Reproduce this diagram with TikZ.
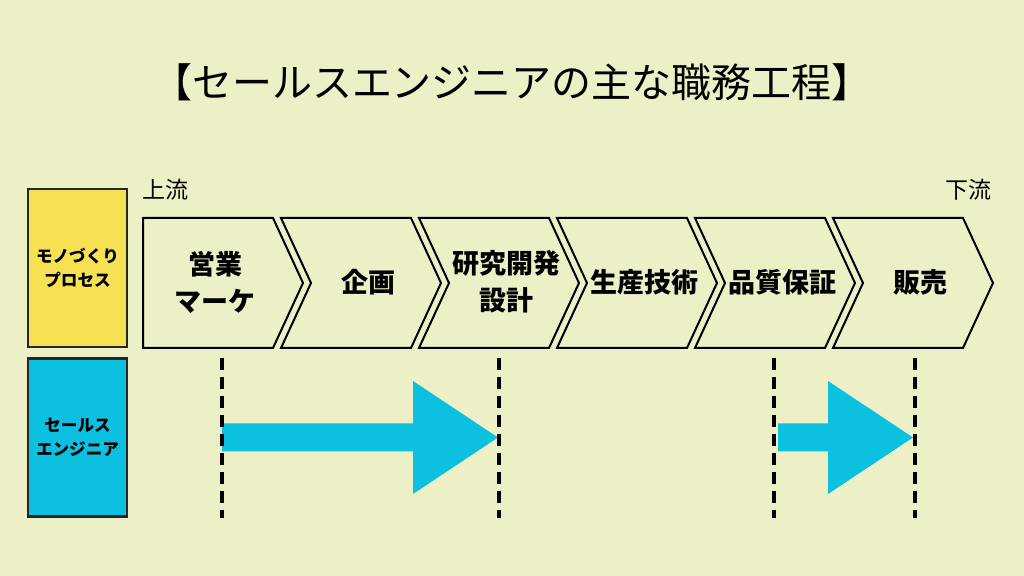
\documentclass[tikz,border=0pt]{standalone}
\usepackage{fontspec}
\setmainfont{Noto Sans CJK JP}
\usetikzlibrary{positioning}
\definecolor{bgcol}{RGB}{237,240,199}
\definecolor{procyellow}{RGB}{245,225,82}
\definecolor{secyan}{RGB}{12,192,223}
\tikzset{
  chevron/.style={draw=black,line width=1pt,fill=bgcol,line join=miter},
  sidebox/.style={draw=black!85,line width=1.1pt,minimum width=49.5pt,minimum height=79pt,
    align=center,font=\bfseries\fontsize{8.3}{12.2}\selectfont},
  steplabel/.style={align=center,font=\bfseries\fontsize{13.5}{18.5}\selectfont},
  bluearrow/.style={fill=secyan},
  cutline/.style={line width=1.6pt,dash pattern=on 6pt off 3.5pt}
}
\begin{document}
\begin{tikzpicture}[x=0.5pt,y=-0.5pt]
\fill[bgcol] (0,0) rectangle (1024,576);
\useasboundingbox (0,0) rectangle (1024,576);

\node[font=\fontsize{20}{23}\selectfont] (title) at (512,82) {【セールスエンジニアの主な職務工程】};

\node[sidebox,fill=procyellow] (proc) at (77.5,268) {モノづくり\\プロセス};
\node[sidebox,fill=secyan] (se) at (77.5,437.5) {セールス\\エンジニア};

\node[anchor=west,inner sep=0pt,font=\fontsize{11.5}{13}\selectfont] (up) at (142,190) {上流};
\node[anchor=east,inner sep=0pt,font=\fontsize{11.5}{13}\selectfont] (down) at (992,190) {下流};

\foreach \i/\lab in {1/{営業\\マーケ},2/企画,3/{研究開発\\設計},4/生産技術,5/品質保証,6/販売}{
  \pgfmathsetmacro\xo{143+(\i-1)*138}
  \pgfmathsetmacro\nt{\i==1 ? 0 : 30}
  \draw[chevron] (\xo,218) -- ++(130,0) -- ++(30,65) -- ++(-30,65) -- ++(-130,0) -- ++(\nt,-65) -- cycle;
  \node[steplabel] (step\i) at (\xo+72+\nt/2,282) {\lab};
}

\coordinate (s1) at (222,437.5);
\coordinate (e1) at (498,437.5);
\coordinate (s2) at (778,437.5);
\coordinate (e2) at (913,437.5);
\fill[bluearrow] (s1) ++(0,-14) -- ++(191,0) -- ++(0,-42.5) -- (e1) -- ++(-85,56.5) -- ++(0,-42.5) -- ++(-191,0) -- cycle;
\fill[bluearrow] (s2) ++(0,-14) -- ++(50,0) -- ++(0,-42.5) -- (e2) -- ++(-85,56.5) -- ++(0,-42.5) -- ++(-50,0) -- cycle;

\foreach \n/\x in {a/222,b/499,c/774,d/915}{
  \coordinate (\n top) at (\x,358);
  \coordinate (\n bot) at (\x,518);
  \draw[cutline] (\n top) -- (\n bot);
}
\end{tikzpicture}
\end{document}
